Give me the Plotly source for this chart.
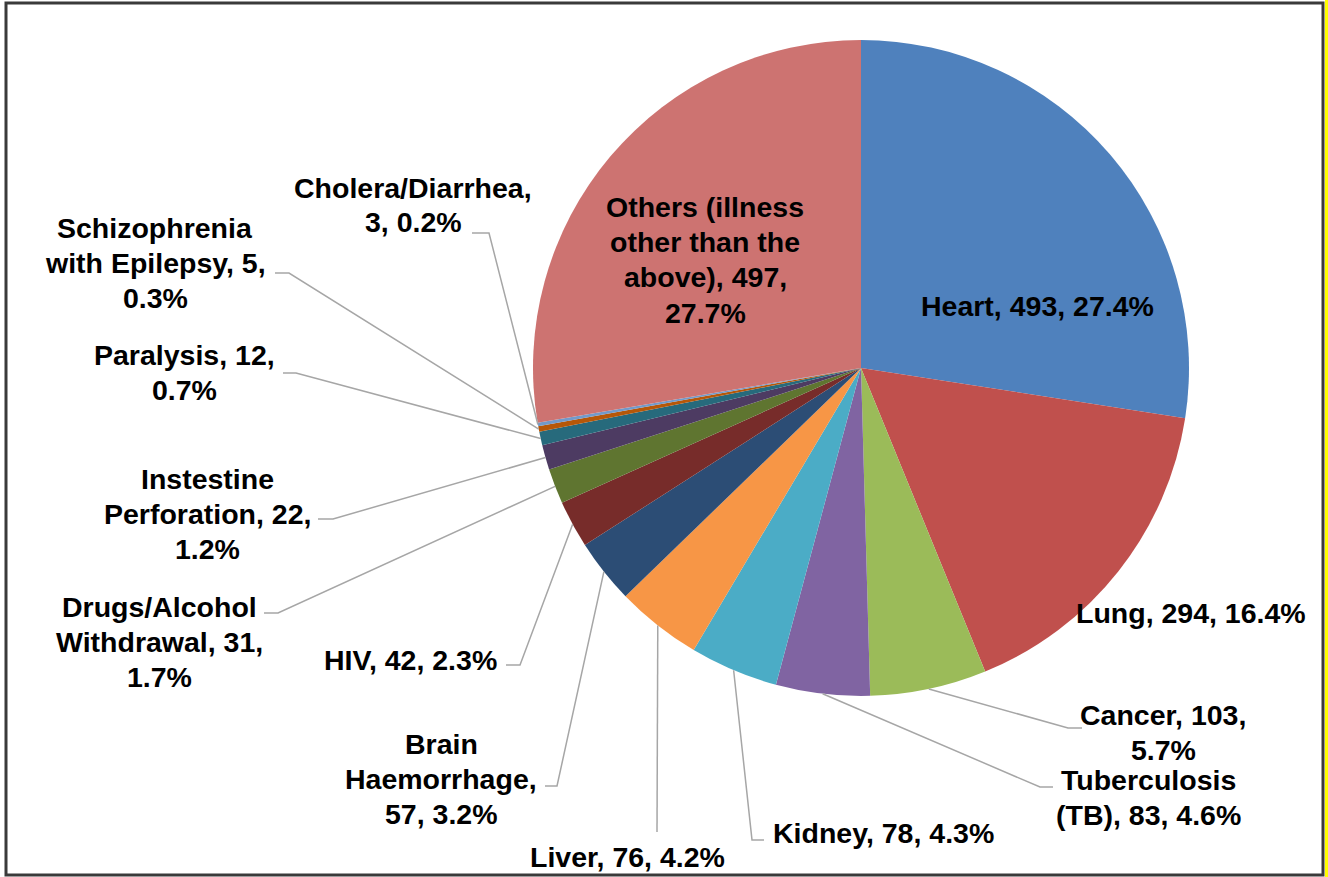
import math
import plotly.graph_objects as go

W, H = 1328, 877

categories = ["Heart", "Lung", "Cancer", "Tuberculosis (TB)", "Kidney", "Liver",
              "Brain Haemorrhage", "HIV", "Drugs/Alcohol Withdrawal",
              "Instestine Perforation", "Paralysis", "Schizophrenia with Epilepsy",
              "Cholera/Diarrhea", "Others (illness other than the above)"]
values = [493, 294, 103, 83, 78, 76, 57, 42, 31, 22, 12, 5, 3, 497]
colors = ["#4F81BD", "#C0504D", "#9BBB59", "#8064A2", "#4BACC6", "#F79646",
          "#2C4D75", "#772C2A", "#5F7530", "#4D3B62", "#276A7C", "#B65708",
          "#729ACA", "#CD7371"]

# wrapped label templates ({v}=value, {p}=percent)
label_templates = [
    "Heart, {v}, {p}",
    "Lung, {v}, {p}",
    "Cancer, {v},<br>{p}",
    "Tuberculosis<br>(TB), {v}, {p}",
    "Kidney, {v}, {p}",
    "Liver, {v}, {p}",
    "Brain<br>Haemorrhage,<br>{v}, {p}",
    "HIV, {v}, {p}",
    "Drugs/Alcohol<br>Withdrawal, {v},<br>{p}",
    "Instestine<br>Perforation, {v},<br>{p}",
    "Paralysis, {v},<br>{p}",
    "Schizophrenia<br>with Epilepsy, {v},<br>{p}",
    "Cholera/Diarrhea,<br>{v}, {p}",
    "Others (illness<br>other than the<br>above), {v},<br>{p}",
]

# layout: pie center/radius in pixels
CX, CY, R = 861, 368, 328
LINE_GAP = 35
FONT_SIZE = 28.5

# label centers (pixels) and leader-line elbow points (pixels, from slice outward)
label_pos = [(1037, 306), (1191, 613), (1163, 732), (1148, 797), (884, 833),
             (627, 857), (441, 779), (410, 660), (159, 642), (207, 514),
             (184, 372), (155, 263), (413, 205), (705, 260)]
leader_elbows = [
    None, None,
    [(1068, 728), (1082, 728)],
    [(1040, 787), (1053, 787)],
    [(752, 840), (764, 840)],
    [(657, 832)],
    [(557, 786), (545, 786)],
    [(520, 665), (506, 665)],
    [(278, 613), (264, 613)],
    [(333, 519), (318, 519)],
    [(296, 373), (283, 373)],
    [(289, 273), (275, 273)],
    [(489, 233), (472, 233)],
    None,
]


def px(x):
    return x / W


def py(y):
    return 1 - y / H


fig = go.Figure()
fig.add_trace(go.Pie(
    labels=categories, values=values, sort=False, direction="clockwise",
    rotation=0, textinfo="none", hoverinfo="label+value+percent",
    marker=dict(colors=colors, line=dict(width=0)),
    showlegend=False,
    domain=dict(x=[px(CX - R), px(CX + R)], y=[py(CY + R), py(CY - R)]),
))

total = sum(values)
shapes = []
annotations = []
cum = 0
for i, v in enumerate(values):
    mid = (cum + v / 2) / total
    cum += v
    theta = 2 * math.pi * mid
    ex = CX + R * math.sin(theta)
    ey = CY - R * math.cos(theta)
    pct = f"{100 * v / total:.1f}%"
    lines = label_templates[i].format(v=v, p=pct).split("<br>")
    lx, ly = label_pos[i]
    n = len(lines)
    for k, line in enumerate(lines):
        yy = ly + (k - (n - 1) / 2) * LINE_GAP
        annotations.append(dict(
            x=px(lx), y=py(yy), xref="paper", yref="paper", text=line,
            showarrow=False, xanchor="center", yanchor="middle", align="center",
            font=dict(family="Liberation Sans, Arial, sans-serif", size=FONT_SIZE,
                      color="black", weight="bold"),
        ))
    if leader_elbows[i]:
        pts = [(ex, ey)] + leader_elbows[i]
        path = "M " + " L ".join(f"{px(a):.5f},{py(b):.5f}" for a, b in pts)
        shapes.append(dict(type="path", path=path, xref="paper", yref="paper",
                           line=dict(color="#A6A6A6", width=1.5)))

# chart frame and right-edge strip
shapes.append(dict(type="rect", xref="paper", yref="paper",
                   x0=px(6), x1=px(1323), y0=py(875), y1=py(3),
                   line=dict(color="#3A3A3A", width=3)))
shapes.append(dict(type="rect", xref="paper", yref="paper",
                   x0=px(1325), x1=px(1328), y0=0, y1=1,
                   line=dict(width=0), fillcolor="#FFFF00"))

fig.update_layout(
    width=W, height=H, margin=dict(l=0, r=0, t=0, b=0),
    paper_bgcolor="white", plot_bgcolor="white",
    shapes=shapes, annotations=annotations,
)

fig.write_html("out.html", config={"displayModeBar": False},
               post_script="document.body.style.margin='0';")
